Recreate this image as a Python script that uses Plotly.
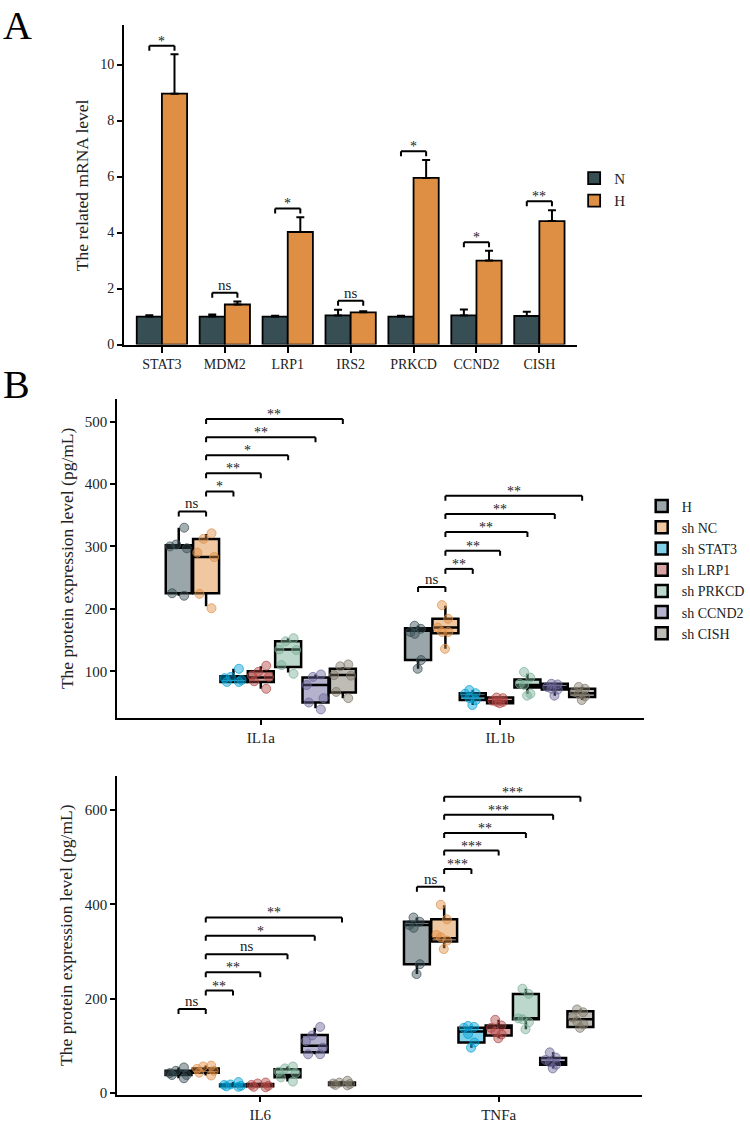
import plotly.graph_objects as go

FONT = "Liberation Serif"
W, H = 750, 1131

# ---------------- Panel A data ----------------
genes = ["STAT3", "MDM2", "LRP1", "IRS2", "PRKCD", "CCND2", "CISH"]
n_mean = [1.00, 1.00, 1.00, 1.04, 1.00, 1.04, 1.02]
n_err = [0.05, 0.07, 0.03, 0.20, 0.03, 0.21, 0.15]
h_mean = [8.96, 1.43, 4.02, 1.15, 5.95, 3.00, 4.41]
h_err = [1.41, 0.11, 0.53, 0.04, 0.64, 0.35, 0.39]
a_sig = ["*", "ns", "*", "ns", "*", "*", "**"]
a_bracket = [10.67, 1.85, 4.86, 1.56, 6.90, 3.65, 5.12]

# ---------------- Panel B data ----------------
groups = ["H", "sh NC", "sh STAT3", "sh LRP1", "sh PRKCD", "sh CCND2", "sh CISH"]
colors = ["#374E55", "#DF8F44", "#00A1D5", "#B24745", "#79AF97", "#6A6599", "#80796B"]
cyto_top = ["IL1a", "IL1b"]
cyto_bot = ["IL6", "TNFa"]

# box statistics per group, order: IL1a, IL1b, IL6, TNFa
q1 = {
    "H": [225, 118, 38, 273], "sh NC": [225, 161, 43, 321], "sh STAT3": [83, 54, 14, 107],
    "sh LRP1": [83, 49, 14, 122], "sh PRKCD": [107, 74, 33, 156], "sh CCND2": [50, 71, 86, 60],
    "sh CISH": [66, 59, 17, 140],
}
med = {
    "H": [298, 165, 42, 356], "sh NC": [283, 170, 49, 328], "sh STAT3": [88, 60, 16, 130],
    "sh LRP1": [90, 52, 16, 138], "sh PRKCD": [135, 78, 38, 157], "sh CCND2": [78, 75, 100, 65],
    "sh CISH": [94, 65, 19, 156],
}
q3 = {
    "H": [302, 169, 47, 363], "sh NC": [312, 184, 52, 368], "sh STAT3": [92, 65, 18, 138],
    "sh LRP1": [100, 58, 19, 143], "sh PRKCD": [148, 87, 50, 210], "sh CCND2": [90, 80, 123, 74],
    "sh CISH": [104, 72, 22, 173],
}
lo = {
    "H": [221, 104, 31, 252], "sh NC": [204, 136, 37, 307], "sh STAT3": [83, 46, 13, 96],
    "sh LRP1": [72, 49, 12, 116], "sh PRKCD": [98, 64, 24, 135], "sh CCND2": [41, 61, 82, 52],
    "sh CISH": [57, 54, 16, 138],
}
hi = {
    "H": [330, 173, 54, 372], "sh NC": [320, 205, 58, 398], "sh STAT3": [104, 70, 23, 142],
    "sh LRP1": [108, 58, 22, 155], "sh PRKCD": [153, 96, 56, 221], "sh CCND2": [95, 80, 138, 86],
    "sh CISH": [107, 75, 26, 177],
}
# individual replicate points per group: IL1a, IL1b, IL6, TNFa
pts = {
    "H": [[330, 303, 300, 297, 225, 221], [173, 168, 163, 160, 118, 104],
          [54, 47, 42, 38, 38, 31], [372, 363, 356, 350, 273, 252]],
    "sh NC": [[321, 312, 290, 283, 224, 201], [206, 184, 170, 163, 163, 136],
              [58, 56, 51, 47, 43, 37], [399, 368, 335, 330, 323, 305]],
    "sh STAT3": [[104, 91, 89, 86, 83, 83], [70, 65, 64, 57, 54, 46],
                 [23, 18, 17, 15, 14, 13], [142, 140, 138, 125, 107, 96]],
    "sh LRP1": [[109, 99, 93, 91, 84, 72], [58, 57, 53, 51, 51, 49],
                [22, 20, 17, 15, 13, 12], [155, 143, 138, 130, 124, 116]],
    "sh PRKCD": [[153, 148, 135, 134, 110, 96], [99, 90, 80, 78, 64, 61],
                 [56, 52, 45, 42, 33, 24], [221, 210, 158, 156, 150, 135]],
    "sh CCND2": [[95, 91, 78, 57, 50, 39], [80, 79, 75, 72, 71, 61],
                 [140, 122, 110, 96, 82, 82], [86, 75, 70, 65, 60, 52]],
    "sh CISH": [[111, 108, 94, 93, 67, 57], [75, 72, 67, 64, 60, 54],
                [26, 22, 20, 19, 17, 16], [177, 171, 160, 152, 145, 138]],
}
# significance brackets: pairs of group indices, labels and heights per cytokine
sig_pairs = [(0, 1), (1, 2), (1, 3), (1, 4), (1, 5), (1, 6)]
sig_labels = {
    "IL1a": ["ns", "*", "**", "*", "**", "**"],
    "IL1b": ["ns", "**", "**", "**", "**", "**"],
    "IL6": ["ns", "**", "**", "ns", "*", "**"],
    "TNFa": ["ns", "***", "***", "**", "***", "***"],
}
sig_heights = {
    "IL1a": [356, 388, 417, 446, 475, 504],
    "IL1b": [235, 264, 293, 323, 352, 381],
    "IL6": [178, 217, 256, 294, 333, 372],
    "TNFa": [437, 475, 514, 551, 590, 628],
}


def rgba(hexc, a):
    h = hexc.lstrip("#")
    r, g, b = int(h[0:2], 16), int(h[2:4], 16), int(h[4:6], 16)
    return f"rgba({r},{g},{b},{a})"


def xf(px):
    return px / W


def yf(py):
    return 1 - py / H


fig = go.Figure()

# ---- Panel A bars ----
fig.add_trace(go.Bar(
    x=genes, y=n_mean, name="N", marker=dict(color="#374E55", line=dict(color="black", width=1.8)),
    error_y=dict(type="data", symmetric=False, array=n_err, arrayminus=[0] * len(n_err),
                 color="black", thickness=2, width=4),
    xaxis="x", yaxis="y", legend="legend",
))
fig.add_trace(go.Bar(
    x=genes, y=h_mean, name="H", marker=dict(color="#DF8F44", line=dict(color="black", width=1.8)),
    error_y=dict(type="data", symmetric=False, array=h_err, arrayminus=[0] * len(h_err),
                 color="black", thickness=2, width=4),
    xaxis="x", yaxis="y", legend="legend",
))

# ---- Panel B boxes ----
BOXGAP = 0.2
slot = (1 - BOXGAP) / len(groups)
panels = [("x2", "y2", cyto_top, [0, 1], True), ("x3", "y3", cyto_bot, [2, 3], False)]
for xa, ya, cats, idx, show in panels:
    for gi, g in enumerate(groups):
        c = colors[gi]
        fig.add_trace(go.Box(
            x=cats, q1=[q1[g][i] for i in idx], median=[med[g][i] for i in idx],
            q3=[q3[g][i] for i in idx], lowerfence=[lo[g][i] for i in idx],
            upperfence=[hi[g][i] for i in idx],
            name=g, offsetgroup=g, fillcolor=rgba(c, 0.5),
            line=dict(color="black", width=2.5), whiskerwidth=0, boxpoints=False,
            xaxis=xa, yaxis=ya, showlegend=show, legend="legend2", legendgroup=g,
        ))
    for gi, g in enumerate(groups):
        c = colors[gi]
        xs, ys = [], []
        for k, i in enumerate(idx):
            xs += [cats[k]] * len(pts[g][i])
            ys += pts[g][i]
        fig.add_trace(go.Box(
            x=xs, y=ys, name=g, offsetgroup=g, boxpoints="all", jitter=0.8, pointpos=0,
            fillcolor="rgba(0,0,0,0)", line=dict(color="rgba(0,0,0,0)", width=0),
            marker=dict(color=rgba(c, 0.45), size=9, line=dict(color=rgba(c, 0.7), width=1)),
            xaxis=xa, yaxis=ya, showlegend=False, legendgroup=g, hoverinfo="skip",
        ))

shapes, annots = [], []


def bracket(xref, yref, xa, xb, yv, label, tick=5):
    common = dict(type="line", xref=xref, yref=yref, ysizemode="pixel", yanchor=yv,
                  line=dict(color="black", width=2))
    shapes.append(dict(x0=xa, x1=xb, y0=0, y1=0, **common))
    shapes.append(dict(x0=xa, x1=xa, y0=0, y1=-tick, **common))
    shapes.append(dict(x0=xb, x1=xb, y0=0, y1=-tick, **common))
    star = label != "ns"
    annots.append(dict(x=(xa + xb) / 2, y=yv, xref=xref, yref=yref, text=label, showarrow=False,
                       yanchor="bottom", yshift=-5 if star else -2,
                       font=dict(family=FONT, size=14 if star else 15, color="#222")))


for i, g in enumerate(genes):
    bracket("x", "y", i - 0.2, i + 0.2, a_bracket[i], a_sig[i])

for xa, ya, cats in [("x2", "y2", cyto_top), ("x3", "y3", cyto_bot)]:
    for ci, cname in enumerate(cats):
        for k, (a, b) in enumerate(sig_pairs):
            xa_ = ci + (a - 3) * slot
            xb_ = ci + (b - 3) * slot
            bracket(xa, ya, xa_, xb_, sig_heights[cname][k], sig_labels[cname][k])

axis_common = dict(showline=True, linecolor="black", linewidth=2, ticks="outside", ticklen=5,
                   tickwidth=2, tickcolor="black", showgrid=False, zeroline=False,
                   tickfont=dict(family=FONT, size=15, color="#222"))

fig.update_layout(
    width=W, height=H, margin=dict(l=0, r=0, t=0, b=0),
    paper_bgcolor="white", plot_bgcolor="white",
    barmode="group", bargap=0.2, bargroupgap=0,
    boxmode="group", boxgap=BOXGAP, boxgroupgap=0.05,
    font=dict(family=FONT, color="#222"),
    xaxis=dict(domain=[xf(125), xf(581)], anchor="y", type="category", range=[-0.6, 6.6],
               **{**axis_common, "tickfont": dict(family=FONT, size=14, color="#222"), "ticklen": 6}),
    yaxis=dict(domain=[yf(347), yf(25)], anchor="x", range=[0, 11.42], tickvals=[0, 2, 4, 6, 8, 10],
               **{**axis_common, "tickfont": dict(family=FONT, size=14, color="#222")}),
    xaxis2=dict(domain=[xf(118), xf(648)], anchor="y2", type="category", range=[-0.6, 1.6], **axis_common),
    yaxis2=dict(domain=[yf(723), yf(402)], anchor="x2", range=[25.4, 535.8],
                tickvals=[100, 200, 300, 400, 500], **axis_common),
    xaxis3=dict(domain=[xf(118), xf(646)], anchor="y3", type="category", range=[-0.6, 1.6], **axis_common),
    yaxis3=dict(domain=[yf(1103), yf(781.7)], anchor="x3", range=[-4.8, 671.6],
                tickvals=[0, 200, 400, 600], **axis_common),
    legend=dict(x=xf(578), y=yf(163), xanchor="left", yanchor="top", bgcolor="rgba(0,0,0,0)",
                font=dict(family=FONT, size=15, color="#222"), tracegroupgap=0),
    legend2=dict(x=xf(646), y=yf(494), xanchor="left", yanchor="top", bgcolor="rgba(0,0,0,0)",
                 font=dict(family=FONT, size=14, color="#222"), tracegroupgap=0),
    shapes=shapes,
)

annots += [
    dict(x=xf(82), y=yf(186), xref="paper", yref="paper", text="The related mRNA level", textangle=-90,
         xanchor="center", yanchor="middle",
         showarrow=False, font=dict(family=FONT, size=17.5, color="#222")),
    dict(x=xf(67), y=yf(562.5), xref="paper", yref="paper", text="The protein expression level (pg/mL)",
         xanchor="center", yanchor="middle",
         textangle=-90, showarrow=False, font=dict(family=FONT, size=17.5, color="#222")),
    dict(x=xf(67), y=yf(942), xref="paper", yref="paper", text="The protein expression level (pg/mL)",
         xanchor="center", yanchor="middle",
         textangle=-90, showarrow=False, font=dict(family=FONT, size=17.5, color="#222")),
    dict(x=xf(1), y=yf(1), xref="paper", yref="paper", text="A", showarrow=False, xanchor="left",
         yanchor="top", font=dict(family=FONT, size=40, color="black")),
    dict(x=xf(1), y=yf(363), xref="paper", yref="paper", text="B", showarrow=False, xanchor="left",
         yanchor="top", font=dict(family=FONT, size=40, color="black")),
]
fig.update_layout(annotations=annots)

fig.write_html("out.html")
